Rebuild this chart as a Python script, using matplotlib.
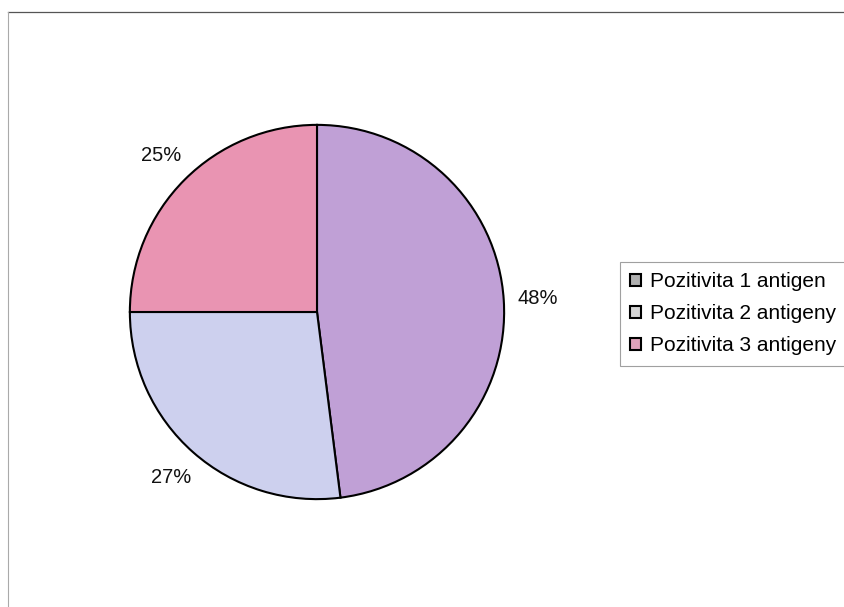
import matplotlib
matplotlib.use("Agg")
import matplotlib.pyplot as plt
from matplotlib.patches import Patch
from matplotlib.lines import Line2D

plt.rcParams['font.family'] = ['Liberation Sans', 'DejaVu Sans']

labels = ["Pozitivita 1 antigen", "Pozitivita 2 antigeny", "Pozitivita 3 antigeny"]
values = [48, 27, 25]
colors = ["#C0A0D6", "#CDD0EE", "#E994B2"]
legend_colors = ["#B0B0B0", "#D4D4D4", "#E0A2BA"]

fig = plt.figure(figsize=(8.44, 6.07), dpi=100)

# chart area border (only top and left survive in the scan)
fig.add_artist(Line2D([8/844, 1], [1-12/607, 1-12/607], color="#555555", lw=0.9))
fig.add_artist(Line2D([8/844, 8/844], [0, 1-12/607], color="#aaaaaa", lw=0.8))

cx, cy, r = 317, 312, 189
ax = fig.add_axes([(cx-r)/844, (607-cy-r)/607, 2*r/844, 2*r/607])
wedges, texts, autotexts = ax.pie(values, colors=colors, startangle=90, counterclock=False,
                                  autopct="%d%%", pctdistance=1.18,
                                  wedgeprops=dict(edgecolor="black", linewidth=1.5),
                                  textprops=dict(fontsize=14.5, color="#111111"))
ax.set_xlim(-1.01, 1.01)
ax.set_ylim(-1.01, 1.01)
ax.set_aspect("equal")
ax.axis("off")

handles = [Patch(facecolor=c, edgecolor="black", linewidth=1.5) for c in legend_colors]
leg = fig.legend(handles, labels, loc="upper left", bbox_to_anchor=(620/844, 1-262/607),
                 borderaxespad=0, fancybox=False, fontsize=15, handlelength=0.5,
                 handleheight=0.5, handletextpad=0.45, labelspacing=0.62,
                 borderpad=0.5, frameon=True)
leg.get_frame().set_edgecolor("#888888")
leg.get_frame().set_linewidth(0.8)

fig.savefig("out.png", dpi=100)
